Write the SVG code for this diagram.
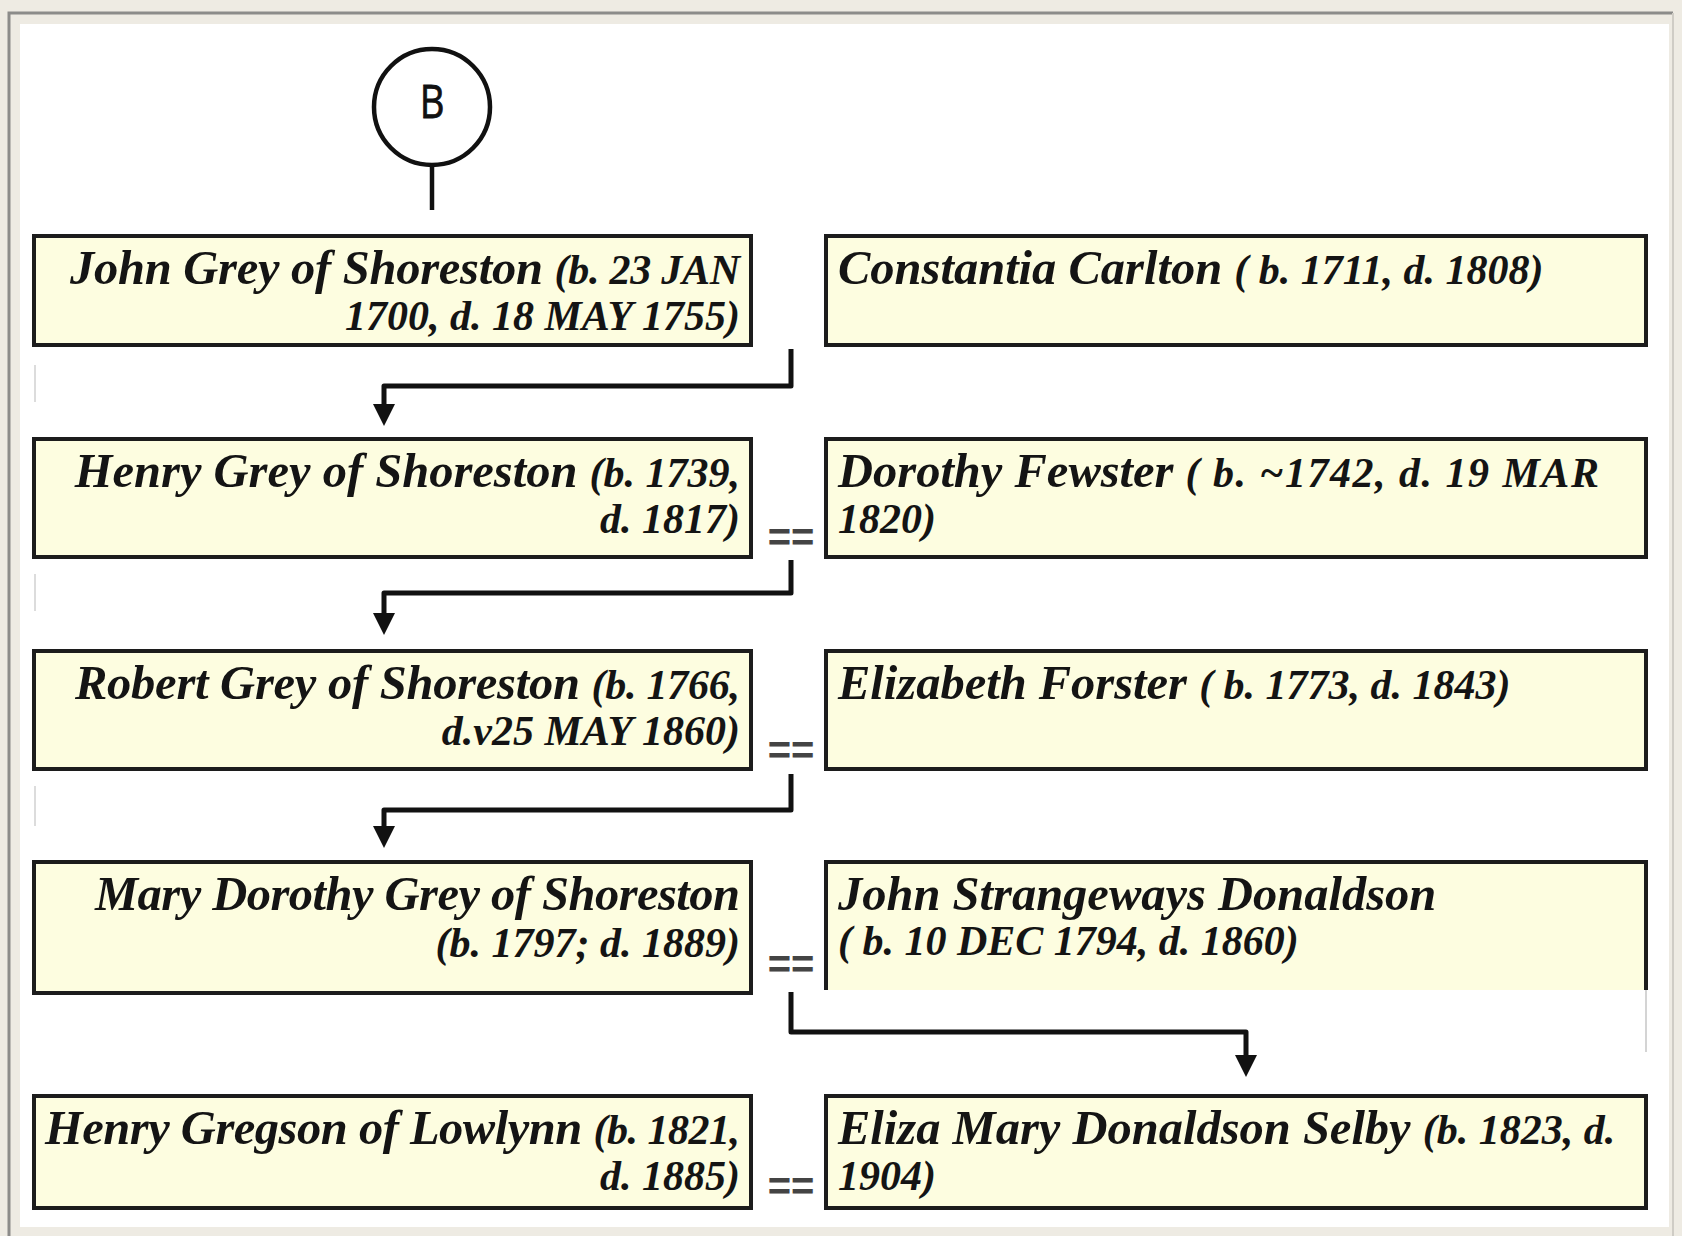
<svg xmlns="http://www.w3.org/2000/svg" width="1682" height="1236" viewBox="0 0 1682 1236">
<defs>
<style>
.box{fill:#fdfde0;stroke:#1c1c1c;stroke-width:4}
.t{font-family:"Liberation Serif","Times New Roman",serif;font-style:italic;font-weight:bold;fill:#141414;font-size:48.5px}
.d{font-size:42px}
.r{text-anchor:end}
.conn{fill:none;stroke:#111;stroke-width:5;stroke-linejoin:round}
.eq{font-family:"Liberation Sans",Arial,sans-serif;font-weight:bold;font-size:40px;fill:#444;text-anchor:middle}
.faint{stroke:#dcdcdc;stroke-width:2}
</style>
<marker id="ah" markerUnits="userSpaceOnUse" markerWidth="24" markerHeight="24" refX="12" refY="11" orient="auto" viewBox="0 0 24 22">
<path d="M0,0 L22,11 L0,22 Z" fill="#111"/>
</marker>
</defs>
<rect x="0" y="0" width="1682" height="1236" fill="#eeebe3"/>
<path d="M9,1236 V13 H1673" fill="none" stroke="#8c8c8a" stroke-width="3"/>
<path d="M1673,13 V1236" fill="none" stroke="#cfccc5" stroke-width="2"/>
<rect x="20" y="24" width="1649" height="1203" fill="#ffffff"/>
<g id="faint-marks">
<line class="faint" x1="35" y1="365" x2="35" y2="402"/>
<line class="faint" x1="35" y1="574" x2="35" y2="611"/>
<line class="faint" x1="35" y1="786" x2="35" y2="826"/>
</g>
<g id="node-B">
<circle cx="432" cy="107" r="58" fill="#fff" stroke="#111" stroke-width="4.5"/>
<text transform="translate(432,118) scale(0.85,1)" x="0" y="0" text-anchor="middle" font-family="'Open Sans','DejaVu Sans',sans-serif" font-size="45" fill="#111" stroke="#111" stroke-width="0.8">B</text>
</g>
<g id="connectors">
<line x1="432" y1="165" x2="432" y2="210" stroke="#111" stroke-width="4.5"/>
<path class="conn" d="M791,349 V386 H384 V416" marker-end="url(#ah)"/>
<path class="conn" d="M791,560 V593 H384 V625" marker-end="url(#ah)"/>
<path class="conn" d="M791,774 V810 H384 V838" marker-end="url(#ah)"/>
<path class="conn" d="M791,992 V1032 H1246 V1067" marker-end="url(#ah)"/>
<text class="eq" x="791" y="551">==</text>
<text class="eq" x="791" y="764">==</text>
<text class="eq" x="791" y="978">==</text>
<text class="eq" x="791" y="1200">==</text>
</g>
<g id="john-grey">
<rect class="box" x="34" y="236" width="717" height="109"/>
<text class="t r" x="740" y="284" textLength="670" lengthAdjust="spacing">John Grey of Shoreston <tspan class="d">(b. 23 JAN</tspan></text>
<text class="t d r" x="740" y="330">1700, d. 18 MAY 1755)</text>
</g>
<g id="constantia-carlton">
<rect class="box" x="826" y="236" width="820" height="109"/>
<text class="t" x="838" y="284">Constantia Carlton <tspan class="d">( b. 1711, d. 1808)</tspan></text>
</g>
<g id="henry-grey">
<rect class="box" x="34" y="439" width="717" height="118"/>
<text class="t r" x="740" y="487">Henry Grey of Shoreston <tspan class="d">(b. 1739,</tspan></text>
<text class="t d r" x="740" y="533">d. 1817)</text>
</g>
<g id="dorothy-fewster">
<rect class="box" x="826" y="439" width="820" height="118"/>
<text class="t" x="838" y="487">Dorothy Fewster <tspan class="d" letter-spacing="1.5">( b. ~1742, d. 19 MAR</tspan></text>
<text class="t d" x="838" y="533">1820)</text>
</g>
<g id="robert-grey">
<rect class="box" x="34" y="651" width="717" height="118"/>
<text class="t r" x="740" y="699" textLength="665" lengthAdjust="spacing">Robert Grey of Shoreston <tspan class="d">(b. 1766,</tspan></text>
<text class="t d r" x="740" y="745">d.v25 MAY 1860)</text>
</g>
<g id="elizabeth-forster">
<rect class="box" x="826" y="651" width="820" height="118"/>
<text class="t" x="838" y="699">Elizabeth Forster <tspan class="d">( b. 1773, d. 1843)</tspan></text>
</g>
<g id="mary-dorothy-grey">
<rect class="box" x="34" y="862" width="717" height="131"/>
<text class="t r" x="740" y="910" textLength="645" lengthAdjust="spacing">Mary Dorothy Grey of Shoreston</text>
<text class="t d r" x="740" y="957">(b. 1797; d. 1889)</text>
</g>
<g id="john-strangeways-donaldson">
<rect x="826" y="862" width="820" height="128" fill="#fdfde0"/>
<path d="M826,990 V862 H1646 V990" fill="none" stroke="#1c1c1c" stroke-width="4"/>
<line x1="1646" y1="990" x2="1646" y2="1052" stroke="#d4d4d4" stroke-width="2"/>
<text class="t" x="838" y="910">John Strangeways Donaldson</text>
<text class="t d" x="838" y="955">( b. 10 DEC 1794, d. 1860)</text>
</g>
<g id="henry-gregson">
<rect class="box" x="34" y="1096" width="717" height="112"/>
<text class="t r" x="740" y="1144" textLength="695" lengthAdjust="spacing">Henry Gregson of Lowlynn <tspan class="d">(b. 1821,</tspan></text>
<text class="t d r" x="740" y="1190">d. 1885)</text>
</g>
<g id="eliza-mary-donaldson-selby">
<rect class="box" x="826" y="1096" width="820" height="112"/>
<text class="t" x="838" y="1144">Eliza Mary Donaldson Selby <tspan class="d">(b. 1823, d.</tspan></text>
<text class="t d" x="838" y="1190">1904)</text>
</g>
</svg>
